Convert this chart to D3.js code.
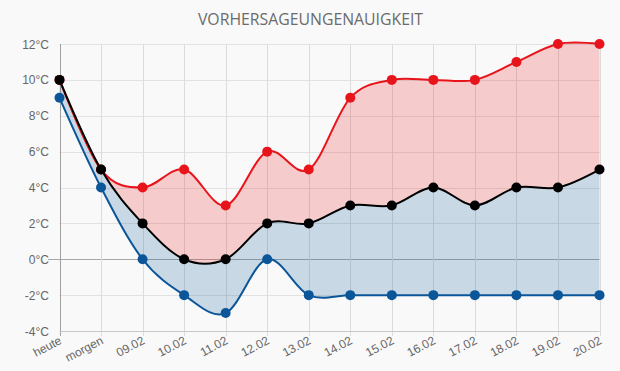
<!DOCTYPE html>
<html><head><meta charset="utf-8">
<script src="https://cdn.jsdelivr.net/npm/d3@7"></script>
<style>
html,body{margin:0;padding:0;background:#f9f9f9;}
svg{display:block;}
</style></head>
<body>
<svg id="c" width="620" height="371"></svg>
<script>
const categories = ["heute","morgen","09.02","10.02","11.02","12.02","13.02","14.02","15.02","16.02","17.02","18.02","19.02","20.02"];
const maxTemps = [10,5,4,5,3,6,5,9,10,10,10,11,12,12];
const midTemps = [10,5,2,0,0,2,2,3,3,4,3,4,4,5];
const minTemps = [9,4,0,-2,-3,0,-2,-2,-2,-2,-2,-2,-2,-2];
const yTicks = [-4,-2,0,2,4,6,8,10,12];
const title = "VORHERSAGEUNGENAUIGKEIT";

const svg = d3.select("#c");
const L = 59.5, R = 599.5, T = 44, B = 331;
const x = d3.scalePoint().domain(categories).range([L, R]);
const y = d3.scaleLinear().domain([-4, 12]).range([B, T]);

svg.append("rect").attr("width",620).attr("height",371).attr("fill","#f9f9f9");

svg.append("text").attr("x",310.5).attr("y",25).attr("text-anchor","middle")
  .attr("font-family","'Open Sans', sans-serif").attr("font-size",15.8)
  .attr("fill","#6b6b6b").text(title);

// horizontal grid
svg.append("g").selectAll("line").data(yTicks).join("line")
  .attr("x1", d => d===0 ? 48 : L).attr("x2", R)
  .attr("y1", d => Math.round(y(d))+0.5).attr("y2", d => Math.round(y(d))+0.5)
  .attr("stroke", d => d===0 ? "#a8a8a8" : "#e2e2e2").attr("stroke-width",1);

// vertical grid
svg.append("g").selectAll("line").data(categories).join("line")
  .attr("x1", d => Math.round(x(d))+0.5).attr("x2", d => Math.round(x(d))+0.5)
  .attr("y1", T).attr("y2", B+5)
  .attr("stroke", (d,i) => i===0 ? "#a0a0a0" : "#dcdcdc").attr("stroke-width",1);

// x axis line
svg.append("line").attr("x1",L).attr("x2",R).attr("y1",B+0.5).attr("y2",B+0.5)
  .attr("stroke","#c8c8c8");

// y labels
svg.append("g").selectAll("text").data(yTicks).join("text")
  .attr("x", 49).attr("y", d => y(d)+4.5).attr("text-anchor","end")
  .attr("font-family","'Liberation Sans', Arial, sans-serif").attr("font-size",12)
  .attr("fill","#666").text(d => d + "°C");

// x labels rotated
svg.append("g").selectAll("text").data(categories).join("text")
  .attr("transform", d => `translate(${x(d)+3},${B+12}) rotate(-28)`)
  .attr("text-anchor","end")
  .attr("font-family","'Liberation Sans', Arial, sans-serif").attr("font-size",12)
  .attr("fill","#666").text(d => d);

const curve = d3.curveCardinal.tension(0);
const idx = d3.range(categories.length);

const areaRed = d3.area().curve(curve)
  .x(i => x(categories[i])).y0(i => y(midTemps[i])).y1(i => y(maxTemps[i]));
const areaBlue = d3.area().curve(curve)
  .x(i => x(categories[i])).y0(i => y(minTemps[i])).y1(i => y(midTemps[i]));

svg.append("path").attr("d", areaRed(idx)).attr("fill","rgba(230,20,20,0.2)");
svg.append("path").attr("d", areaBlue(idx)).attr("fill","rgba(8,84,150,0.2)");

const series = [
  {vals: minTemps, color: "#0b5699"},
  {vals: maxTemps, color: "#e8141b"},
  {vals: midTemps, color: "#000000"}
];
const line = vals => d3.line().curve(curve).x(i => x(categories[i])).y(i => y(vals[i]));
series.forEach(s => {
  svg.append("path").attr("d", line(s.vals)(idx)).attr("fill","none")
    .attr("stroke", s.color).attr("stroke-width",2);
});
series.forEach(s => {
  svg.append("g").selectAll("circle").data(idx).join("circle")
    .attr("cx", i => x(categories[i])).attr("cy", i => y(s.vals[i]))
    .attr("r", 5).attr("fill", s.color);
});
</script>
</body></html>
